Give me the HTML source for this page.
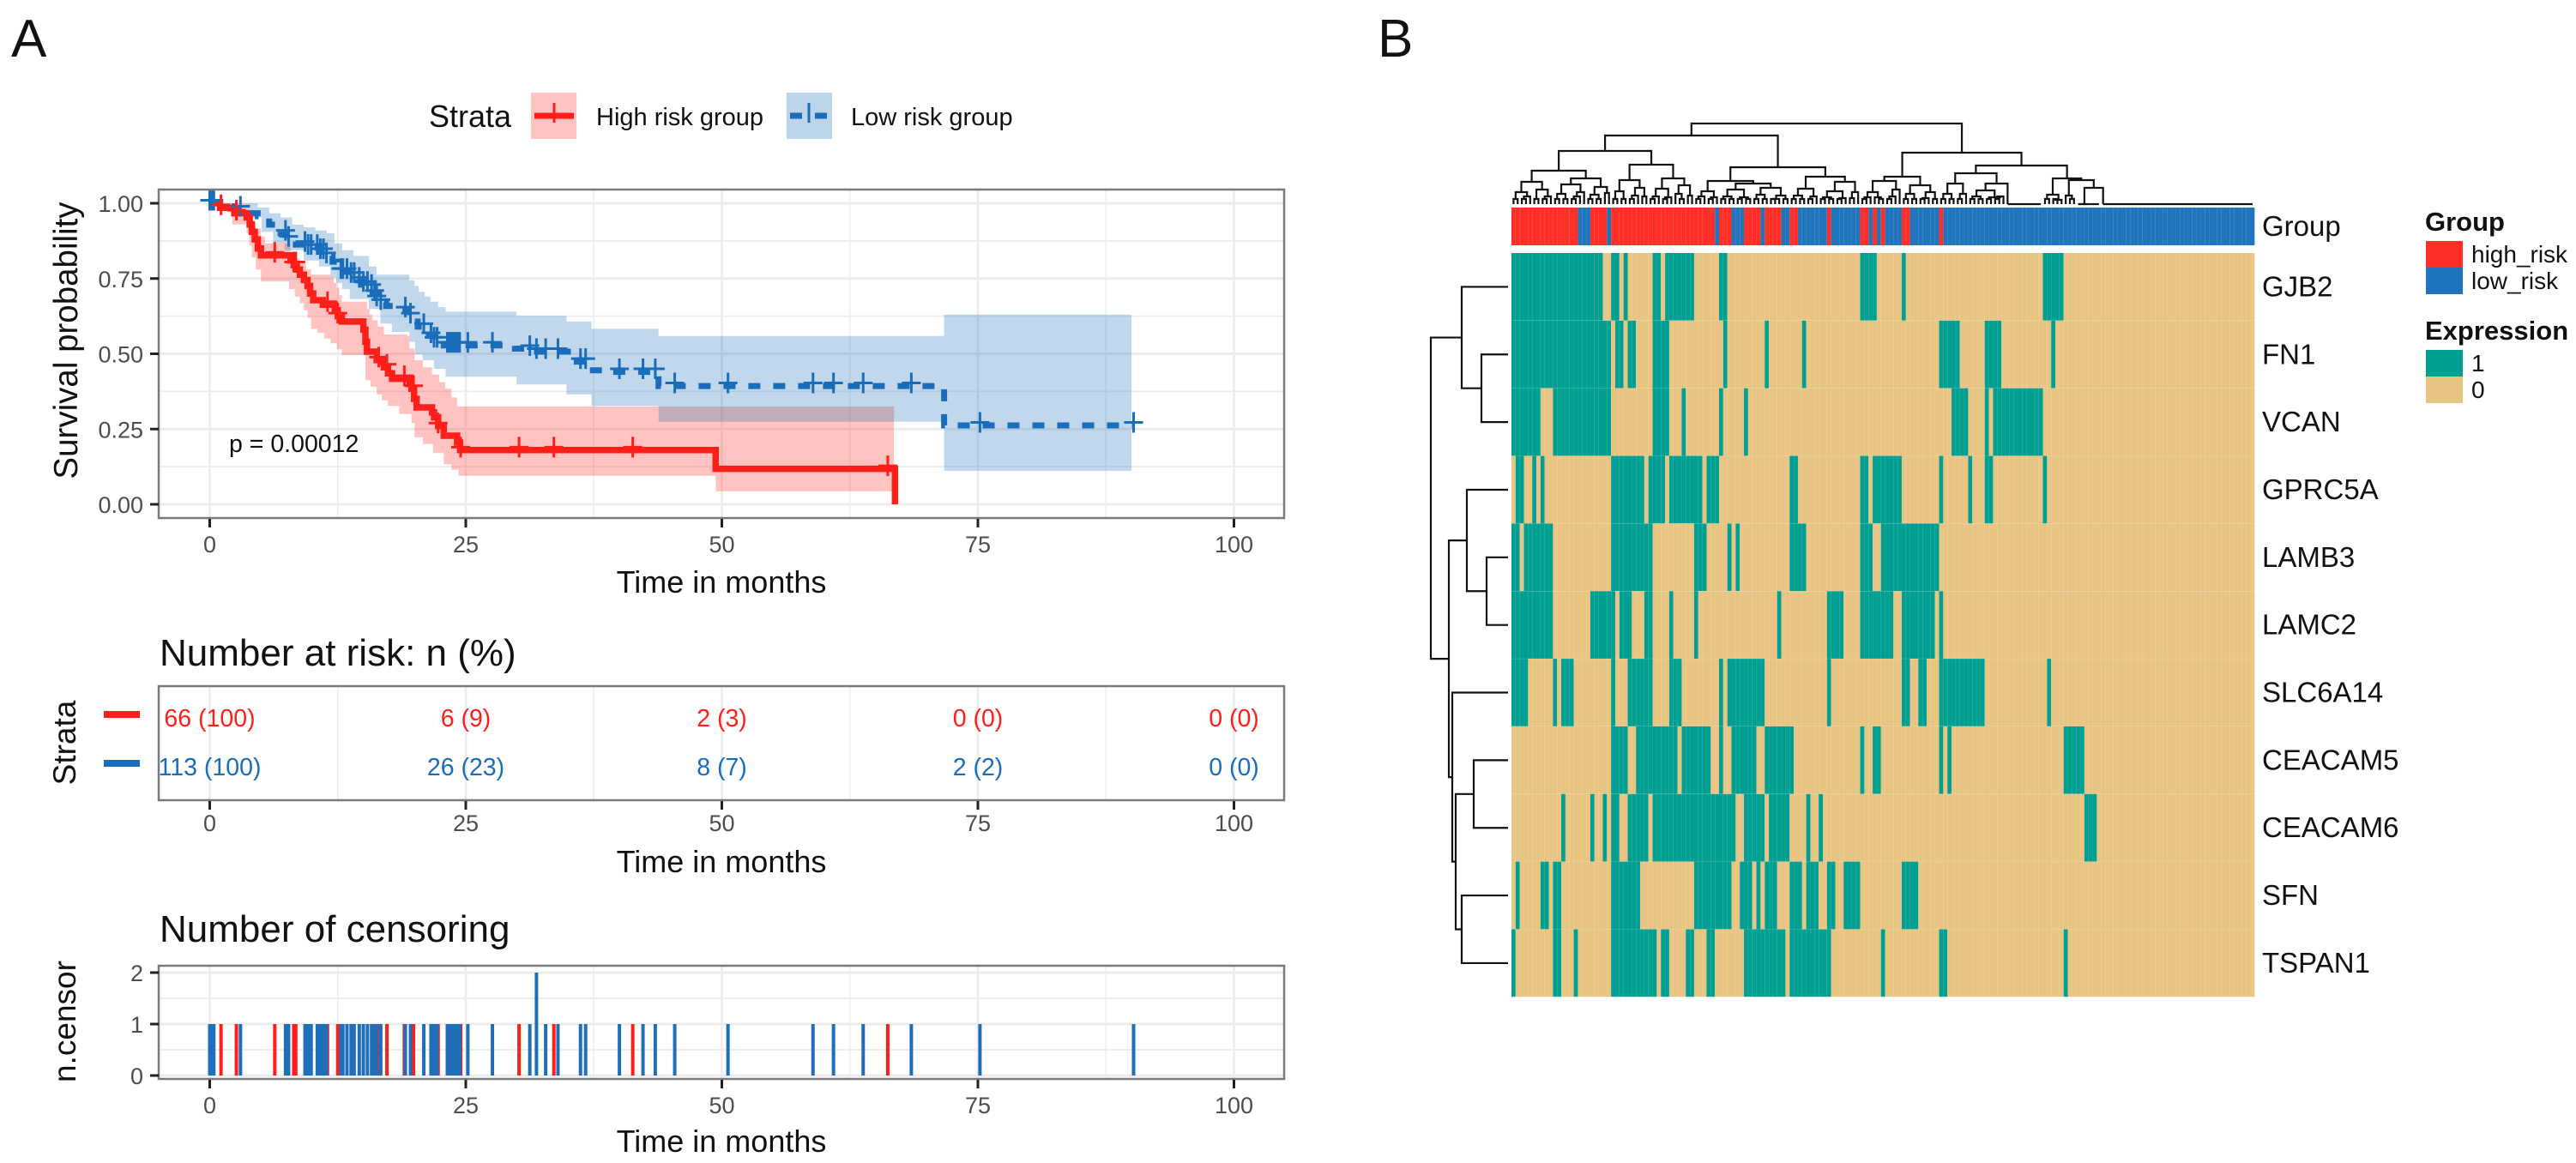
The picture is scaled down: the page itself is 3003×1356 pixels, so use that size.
<!DOCTYPE html>
<html lang="en">
<head>
<meta charset="utf-8">
<title>Survival analysis and expression heatmap</title>
<style>
html,body{margin:0;padding:0;background:#fff;}
svg{display:block;}
text{font-family:"Liberation Sans",sans-serif;}
</style>
</head>
<body>
<svg id="fig" xmlns="http://www.w3.org/2000/svg" width="3003" height="1356" viewBox="0 0 3003 1356">
  <rect x="0" y="0" width="3003" height="1356" fill="#fff"/>
  <text x="13" y="66" font-size="62" fill="#111">A</text>
  <text x="1606" y="66" font-size="62" fill="#111">B</text>

  <text x="500" y="148" font-size="36" fill="#111">Strata</text>
  <g>
    <rect x="619" y="108" width="53" height="54" fill="#ff2a22" fill-opacity="0.28"/>
    <line x1="623" x2="669" y1="135" y2="135" stroke="#ff1f1a" stroke-width="7"/>
    <line x1="646" x2="646" y1="120" y2="143" stroke="#ff1f1a" stroke-width="3"/>
    <text x="695" y="146" font-size="29" fill="#111">High risk group</text>
  </g>
  <g>
    <rect x="917" y="108" width="53" height="54" fill="#1f6fb8" fill-opacity="0.3"/>
    <line x1="921" x2="964" y1="135" y2="135" stroke="#1a6dba" stroke-width="7" stroke-dasharray="14 15"/>
    <line x1="943" x2="943" y1="120" y2="143" stroke="#1a6dba" stroke-width="3"/>
    <text x="992" y="146" font-size="29" fill="#111">Low risk group</text>
  </g>

  <g id="km-grid"></g>
  <g id="km-bands"></g>
  <g id="km-lines"></g>
  <g id="km-marks"></g>
  <rect x="185" y="221" width="1312" height="383" fill="none" stroke="#7a7a7a" stroke-width="2.5"/>
  <g id="km-axes"></g>
  <text transform="translate(90,397) rotate(-90)" text-anchor="middle" font-size="38.5" fill="#111">Survival probability</text>
  <text x="841" y="691" text-anchor="middle" font-size="36" fill="#111">Time in months</text>
  <text x="267" y="527" font-size="28.5" fill="#111">p = 0.00012</text>

  <text x="186" y="776" font-size="44" fill="#111">Number at risk: n (%)</text>
  <g id="risk-grid"></g>
  <rect x="185" y="800" width="1312" height="133" fill="none" stroke="#7a7a7a" stroke-width="2.5"/>
  <g id="risk-values"></g>
  <g id="risk-axes"></g>
  <rect x="121" y="829" width="42" height="8" fill="#ff1f1a"/>
  <rect x="121" y="886" width="42" height="8" fill="#1a6dba"/>
  <text transform="translate(88,866) rotate(-90)" text-anchor="middle" font-size="37" fill="#111">Strata</text>
  <text x="841" y="1017" text-anchor="middle" font-size="36" fill="#111">Time in months</text>

  <text x="186" y="1098" font-size="44" fill="#111">Number of censoring</text>
  <g id="censor-grid"></g>
  <g id="censor-bars"></g>
  <rect x="185" y="1126" width="1312" height="132" fill="none" stroke="#7a7a7a" stroke-width="2.5"/>
  <g id="censor-axes"></g>
  <text transform="translate(88,1191) rotate(-90)" text-anchor="middle" font-size="37" fill="#111">n.censor</text>
  <text x="841" y="1343" text-anchor="middle" font-size="36" fill="#111">Time in months</text>

  <g id="col-dendro" fill="none" stroke="#111" stroke-width="2.2"></g>
  <g id="row-dendro" fill="none" stroke="#111" stroke-width="2.2"></g>
  <g id="group-bar"></g>
  <g id="heat"></g>
  <g id="row-labels"></g>
  <text x="2637" y="275" font-size="33" fill="#111">Group</text>

  <text x="2827" y="269" font-size="31" font-weight="bold" fill="#111">Group</text>
  <rect x="2828" y="281" width="43" height="31" fill="#ff2e26"/>
  <rect x="2828" y="312" width="43" height="31" fill="#1f74bc"/>
  <text x="2881" y="306" font-size="28" fill="#111">high_risk</text>
  <text x="2881" y="337" font-size="28" fill="#111">low_risk</text>
  <text x="2827" y="396" font-size="31" font-weight="bold" fill="#111">Expression</text>
  <rect x="2828" y="408" width="43" height="31" fill="#009f92"/>
  <rect x="2828" y="439" width="43" height="31" fill="#e8c583"/>
  <text x="2881" y="433" font-size="28" fill="#111">1</text>
  <text x="2881" y="464" font-size="28" fill="#111">0</text>
</svg>
<script>
// ---------- survival data ----------
var timeTicks = [0, 25, 50, 75, 100];
var timeMinorTicks = [12.5, 37.5, 62.5, 87.5];
var survivalTicks = [0, 0.25, 0.5, 0.75, 1];
var survivalTickLabels = ['0.00', '0.25', '0.50', '0.75', '1.00'];
var survivalMinorTicks = [0.125, 0.375, 0.625, 0.875];

var highTimes = [0, 1.0, 2.4, 3.6, 3.9, 4.1, 4.4, 4.7, 5.0, 7.9, 8.2, 8.5, 8.8, 9.2, 9.55, 9.8, 10.1, 11.05, 12.2, 12.5, 12.9, 15.0, 15.2, 15.35, 16.3, 17.0, 17.4, 17.8, 19.5, 19.7, 19.95, 20.2, 21.7, 21.9, 22.3, 22.85, 24.15, 24.45, 49.4, 66.9];
var highSurvival = [1, 0.985, 0.967, 0.953, 0.93, 0.905, 0.88, 0.85, 0.827, 0.81, 0.795, 0.78, 0.763, 0.745, 0.725, 0.7, 0.678, 0.663, 0.645, 0.625, 0.607, 0.58, 0.54, 0.507, 0.479, 0.455, 0.435, 0.417, 0.4, 0.384, 0.35, 0.322, 0.305, 0.289, 0.26, 0.228, 0.205, 0.18, 0.118, 0];
var highUpperTimes = [0, 3.6, 3.9, 4.2, 4.5, 5.0, 5.4, 7.9, 8.4, 8.8, 9.4, 9.9, 11.8, 12.1, 12.4, 12.65, 12.9, 15.35, 15.6, 15.9, 16.4, 17.0, 19.3, 19.5, 20.0, 20.8, 21.7, 22.4, 23.0, 23.6, 24.15];
var highUpper = [1, 0.975, 0.955, 0.935, 0.915, 0.89, 0.867, 0.834, 0.817, 0.8, 0.78, 0.763, 0.753, 0.735, 0.72, 0.695, 0.673, 0.649, 0.63, 0.611, 0.59, 0.564, 0.559, 0.517, 0.479, 0.455, 0.431, 0.405, 0.384, 0.355, 0.325];
var highLowerTimes = [0, 2.2, 3.6, 3.85, 4.1, 4.5, 5.0, 7.75, 8.3, 8.8, 9.2, 9.55, 9.9, 10.5, 11.2, 11.8, 12.4, 12.9, 15.2, 15.7, 16.3, 16.8, 17.4, 18.5, 19.7, 20.0, 20.8, 21.8, 22.85, 23.6, 24.3, 49.4];
var highLower = [1, 0.93, 0.9, 0.86, 0.82, 0.78, 0.74, 0.715, 0.69, 0.668, 0.645, 0.62, 0.583, 0.57, 0.55, 0.535, 0.515, 0.496, 0.412, 0.39, 0.365, 0.345, 0.327, 0.3, 0.27, 0.223, 0.2, 0.17, 0.133, 0.115, 0.095, 0.043];
var highEnd = 66.8;

var lowTimes = [0, 2.43, 3.56, 4.68, 5.8, 6.4, 6.93, 7.5, 8.05, 9.55, 10.67, 11.4, 11.99, 12.4, 12.73, 13.6, 14.42, 15.0, 15.54, 15.9, 16.29, 16.7, 17.23, 19.1, 19.4, 19.66, 20.3, 20.97, 21.4, 21.9, 22.85, 29.8, 31.27, 35.39, 36.89, 39.14, 43.82, 71.7, 90.2];
var lowSurvival = [1, 0.98, 0.967, 0.957, 0.929, 0.915, 0.9, 0.88, 0.863, 0.853, 0.839, 0.825, 0.806, 0.79, 0.773, 0.76, 0.744, 0.73, 0.72, 0.7, 0.682, 0.67, 0.659, 0.645, 0.625, 0.607, 0.59, 0.573, 0.56, 0.545, 0.528, 0.517, 0.507, 0.474, 0.445, 0.44, 0.393, 0.262, 0.262];
var lowUpperTimes = [0, 3.56, 4.68, 5.8, 6.93, 8.05, 9.18, 10.3, 11.42, 12.17, 12.92, 14.04, 15.54, 16.29, 19.48, 20.0, 20.41, 21.0, 21.54, 22.3, 23.03, 29.96, 34.83, 37.27, 43.82, 71.7];
var lowUpper = [1, 1, 0.986, 0.967, 0.953, 0.929, 0.92, 0.91, 0.9, 0.867, 0.844, 0.825, 0.79, 0.763, 0.744, 0.725, 0.706, 0.69, 0.673, 0.655, 0.64, 0.626, 0.607, 0.583, 0.559, 0.63];
var lowLowerTimes = [0, 3.56, 5.06, 6.18, 7.3, 9.18, 10.67, 11.8, 12.35, 12.92, 13.67, 15.54, 16.67, 17.79, 19.5, 20.04, 20.79, 21.9, 23.03, 29.96, 34.83, 37.27, 43.82, 71.7];
var lowLower = [1, 0.953, 0.905, 0.867, 0.844, 0.81, 0.79, 0.753, 0.735, 0.715, 0.682, 0.649, 0.6, 0.573, 0.54, 0.498, 0.479, 0.45, 0.424, 0.398, 0.365, 0.327, 0.274, 0.111];
var lowEnd = 90;

// ---------- censoring data ----------
var censorHighTimes = [1.1, 2.6, 6.35, 8.2, 8.4, 11.5, 12.5, 16.5, 17.3, 19.0, 19.9, 22.3, 24.5, 30.2, 33.6, 41.3, 66.2];
var censorHighCounts = [1, 1, 1, 1, 1, 1, 1, 1, 1, 1, 1, 1, 1, 1, 1, 1, 1];
var censorLowTimes = [0, 0.2, 0.4, 3.0, 7.4, 7.7, 9.3, 9.6, 9.9, 10.5, 10.8, 11.1, 11.4, 12.8, 13.0, 13.4, 13.8, 14.1, 14.6, 15.0, 15.4, 15.8, 16.1, 16.3, 16.7, 19.1, 19.6, 20.9, 21.6, 21.9, 22.2, 23.2, 23.4, 23.6, 23.8, 24.0, 24.2, 24.4, 25.2, 27.6, 31.25, 31.9, 32.8, 34.0, 36.2, 36.7, 40.0, 42.3, 43.5, 45.4, 50.6, 58.9, 60.9, 63.8, 68.5, 75.2, 90.2];
var censorLowCounts = [1, 1, 1, 1, 1, 1, 1, 1, 1, 1, 1, 1, 1, 1, 1, 1, 1, 1, 1, 1, 1, 1, 1, 1, 1, 1, 1, 1, 1, 1, 1, 1, 1, 1, 1, 1, 1, 1, 1, 1, 1, 2, 1, 1, 1, 1, 1, 1, 1, 1, 1, 1, 1, 1, 1, 1, 1];
var censorTicks = [0, 1, 2];
var censorMinorTicks = [0.5, 1.5];

// ---------- risk table ----------
var riskHigh = ['66 (100)', '6 (9)', '2 (3)', '0 (0)', '0 (0)'];
var riskLow = ['113 (100)', '26 (23)', '8 (7)', '2 (2)', '0 (0)'];

// ---------- heatmap data (sample index ranges [from, to) with expression = 1) ----------
var sampleCount = 179;
var genes = ['GJB2', 'FN1', 'VCAN', 'GPRC5A', 'LAMB3', 'LAMC2', 'SLC6A14', 'CEACAM5', 'CEACAM6', 'SFN', 'TSPAN1'];
var runsGJB2 = [[0,22],[24,26],[27,28],[34,36],[37,44],[50,52],[84,88],[94,95],[128,133]];
var runsFN1 = [[0,24],[25,27],[28,30],[34,38],[51,52],[61,62],[70,71],[103,108],[114,118],[130,131]];
var runsVCAN = [[0,7],[10,24],[34,38],[41,42],[50,51],[56,57],[106,110],[114,115],[116,128]];
var runsGPRC5A = [[1,3],[5,6],[7,8],[24,32],[33,37],[38,46],[47,50],[67,69],[84,86],[87,94],[103,104],[110,111],[114,116],[128,129]];
var runsLAMB3 = [[0,2],[3,10],[24,34],[44,47],[52,53],[54,55],[67,71],[84,87],[89,103]];
var runsLAMC2 = [[0,10],[19,25],[26,29],[32,34],[38,39],[44,45],[64,65],[76,80],[84,92],[94,102],[103,104]];
var runsSLC6A14 = [[0,4],[10,11],[12,15],[24,25],[28,34],[38,41],[50,51],[52,61],[76,77],[94,96],[98,100],[103,114],[129,130]];
var runsCEACAM5 = [[24,28],[30,40],[41,48],[50,51],[53,59],[61,68],[84,85],[87,89],[103,104],[105,106],[133,138]];
var runsCEACAM6 = [[12,13],[19,20],[22,23],[24,26],[28,33],[34,54],[56,61],[62,67],[71,72],[74,75],[138,141]];
var runsSFN = [[1,2],[7,9],[10,12],[24,31],[44,53],[55,58],[59,60],[61,64],[67,70],[71,74],[76,78],[80,84],[94,98]];
var runsTSPAN1 = [[0,1],[10,12],[15,16],[24,35],[36,38],[42,44],[47,49],[56,66],[67,77],[89,90],[103,105],[133,134]];
var geneRuns = [runsGJB2, runsFN1, runsVCAN, runsGPRC5A, runsLAMB3, runsLAMC2, runsSLC6A14, runsCEACAM5, runsCEACAM6, runsSFN, runsTSPAN1];
var highRiskRuns = [[0,16],[19,23],[24,49],[50,53],[56,60],[61,65],[67,69],[76,77],[84,86],[87,88],[89,90],[94,96],[103,104]];

// dendrogram trees: [merge height, left, right]; number = chain of n leaves; negative = flat chain
var treeA = [39,[26,[14,2,3],[17,2,3]],[30,[23,[12,2,2],[14,3,1]],[20,[11,2,2],[13,1,1]]]];
var treeB = [46,[28,[15,2,2],[19,[10,2,1],[9,1,1]]],[30,[18,[9,2,1],[8,2,1]],[22,[12,1,2],[10,1,1]]]];
var treeC = [43,[27,[15,[9,2,1],[8,2,1]],[24,[17,[9,2,2],[8,2,2]],[19,[11,2,2],[10,[6,2,1],2]]]],[32,[18,[10,2,2],[9,2,1]],[26,[15,[8,2,2],[7,2,1]],[14,[7,1,1],1]]]];
var treeD = [32,[27,[14,[8,2,1],[8,1,2]],[17,[9,2,1],1]],[22,[12,2,2],[14,[7,2,1],2]]];
var treeE = [36,[24,[12,2,2],[12,2,1]],[24,[16,[9,2,2],[8,2,3]],-9]];
var treeF = [30,[11,2,[5,2,1]],[28,[10,1,2],[19,[0,-3,-3],-37]]];
var columnTree = [94,[80,[62,treeA,treeB],treeC],[60,treeD,[45,treeE,treeF]]];
var rowTree = [90,[54,1,[31,1,1]],[69,[48,1,[25,1,1]],[65,1,[61,[40,1,1],[54,1,1]]]]];

// ---------- geometry & helpers ----------
var SVGNS = 'http://www.w3.org/2000/svg';
var COLOR_HIGH = '#ff1f1a', COLOR_LOW = '#1a6dba', GRID = '#ececec', TICK_TEXT = '#4d4d4d';
function xT(t) { return 244.5 + 11.94 * t; }
function yS(s) { return 588 - 351 * s; }
function yC(n) { return 1254 - 60 * n; }
function mk(parentId, tag, name, attrs, content) {
  var node = document.createElementNS(SVGNS, tag);
  
  
  for (var k in attrs) { node.setAttribute(k, attrs[k]); }
  if (content !== undefined) { node.textContent = content; }
  document.getElementById(parentId).appendChild(node);
  return node;
}
function stepAt(times, vals, t) {
  var v = vals[0];
  for (var i = 0; i < times.length; i++) { if (times[i] <= t) { v = vals[i]; } }
  return v;
}
function stepPoints(times, vals, end) {
  var pts = [];
  for (var i = 0; i < times.length; i++) {
    if (i > 0) { pts.push([xT(times[i]), yS(vals[i - 1])]); }
    pts.push([xT(times[i]), yS(vals[i])]);
  }
  if (end !== undefined) { pts.push([xT(end), yS(vals[vals.length - 1])]); }
  return pts;
}
function toStr(pts) { return pts.map(function (p) { return p[0].toFixed(1) + ',' + p[1].toFixed(1); }).join(' '); }

function verticalGrid(parent, top, bottom) {
  timeMinorTicks.forEach(function (t) {
    mk(parent, 'line', 'grid-minor-x', {x1: xT(t), x2: xT(t), y1: top, y2: bottom, stroke: GRID, 'stroke-width': 1.5});
  });
  timeTicks.forEach(function (t) {
    mk(parent, 'line', 'grid-major-x', {x1: xT(t), x2: xT(t), y1: top, y2: bottom, stroke: GRID, 'stroke-width': 2.6});
  });
}
function xAxis(parent, axisY, labelY) {
  timeTicks.forEach(function (t) {
    mk(parent, 'line', 'x-tick', {x1: xT(t), x2: xT(t), y1: axisY + 1, y2: axisY + 11, stroke: '#222', 'stroke-width': 3});
    mk(parent, 'text', 'x-tick-label', {x: xT(t), y: labelY, 'text-anchor': 'middle', 'font-size': 27, fill: TICK_TEXT}, String(t));
  });
}

// ---------- survival panel ----------
verticalGrid('km-grid', 222, 603);
survivalMinorTicks.forEach(function (s) {
  mk('km-grid', 'line', 'grid-minor-y', {x1: 186, x2: 1496, y1: yS(s), y2: yS(s), stroke: GRID, 'stroke-width': 1.8});
});
survivalTicks.forEach(function (s, i) {
  mk('km-grid', 'line', 'grid-major-y', {x1: 186, x2: 1496, y1: yS(s), y2: yS(s), stroke: GRID, 'stroke-width': 3});
  mk('km-axes', 'line', 'y-tick', {x1: 175, x2: 185, y1: yS(s), y2: yS(s), stroke: '#222', 'stroke-width': 3});
  mk('km-axes', 'text', 'y-tick-label', {x: 167, y: yS(s) + 10, 'text-anchor': 'end', 'font-size': 27, fill: TICK_TEXT}, survivalTickLabels[i]);
});
xAxis('km-axes', 604, 644);

function band(upT, up, loT, lo, end, color, opacity, name) {
  var top = stepPoints(upT, up, end);
  var bot = stepPoints(loT, lo, end).reverse();
  mk('km-bands', 'polygon', name, {points: toStr(top.concat(bot)), fill: color, 'fill-opacity': opacity});
}
band(highUpperTimes, highUpper, highLowerTimes, highLower, highEnd, '#ff2a22', 0.28, 'band-high-risk');
band(lowUpperTimes, lowUpper, lowLowerTimes, lowLower, lowEnd, '#1f6fb8', 0.28, 'band-low-risk');

mk('km-lines', 'polyline', 'curve-low-risk', {points: toStr(stepPoints(lowTimes, lowSurvival)), fill: 'none', stroke: COLOR_LOW, 'stroke-width': 7, 'stroke-dasharray': '14 15'});
mk('km-lines', 'polyline', 'curve-high-risk', {points: toStr(stepPoints(highTimes, highSurvival)), fill: 'none', stroke: COLOR_HIGH, 'stroke-width': 7.5});

function marks(times, stepT, stepV, color, name) {
  times.forEach(function (t) {
    var cx = xT(t), cy = yS(stepAt(stepT, stepV, t)) - 3.5;
    mk('km-marks', 'path', name, {d: 'M' + (cx - 11) + ' ' + cy + 'H' + (cx + 11) + 'M' + cx + ' ' + (cy - 12) + 'V' + (cy + 12), stroke: color, 'stroke-width': 3, fill: 'none'});
  });
}
marks(censorLowTimes, lowTimes, lowSurvival, COLOR_LOW, 'censor-mark-low');
marks(censorHighTimes, highTimes, highSurvival, COLOR_HIGH, 'censor-mark-high');

// ---------- risk table ----------
verticalGrid('risk-grid', 801, 932);
timeTicks.forEach(function (t, i) {
  mk('risk-values', 'text', 'risk-value-high', {x: xT(t), y: 847, 'text-anchor': 'middle', 'font-size': 28.5, fill: COLOR_HIGH}, riskHigh[i]);
  mk('risk-values', 'text', 'risk-value-low', {x: xT(t), y: 904, 'text-anchor': 'middle', 'font-size': 28.5, fill: COLOR_LOW}, riskLow[i]);
});
xAxis('risk-axes', 933, 969);

// ---------- censor panel ----------
verticalGrid('censor-grid', 1127, 1257);
censorMinorTicks.forEach(function (n) {
  mk('censor-grid', 'line', 'grid-minor-y', {x1: 186, x2: 1496, y1: yC(n), y2: yC(n), stroke: GRID, 'stroke-width': 1.8});
});
censorTicks.forEach(function (n) {
  mk('censor-grid', 'line', 'grid-major-y', {x1: 186, x2: 1496, y1: yC(n), y2: yC(n), stroke: GRID, 'stroke-width': 3});
  mk('censor-axes', 'line', 'y-tick', {x1: 175, x2: 185, y1: yC(n), y2: yC(n), stroke: '#222', 'stroke-width': 3});
  mk('censor-axes', 'text', 'y-tick-label', {x: 167, y: yC(n) + 10, 'text-anchor': 'end', 'font-size': 27, fill: TICK_TEXT}, String(n));
});
xAxis('censor-axes', 1258, 1298);
censorHighTimes.forEach(function (t, i) {
  mk('censor-bars', 'line', 'censor-bar-high', {x1: xT(t), x2: xT(t), y1: yC(0), y2: yC(censorHighCounts[i]), stroke: '#ff1f1a', 'stroke-width': 4});
});
censorLowTimes.forEach(function (t, i) {
  mk('censor-bars', 'line', 'censor-bar-low', {x1: xT(t), x2: xT(t), y1: yC(0), y2: yC(censorLowCounts[i]), stroke: '#1f6fb8', 'stroke-width': 4});
});

// ---------- heatmap ----------
var HM_LEFT = 1762, HM_TOP = 295, COL_W = 4.84, ROW_H = 78.85;
function xCol(c) { return HM_LEFT + c * COL_W; }
function yRow(r) { return HM_TOP + r * ROW_H; }
function inRuns(runs, c) {
  for (var i = 0; i < runs.length; i++) { if (c >= runs[i][0] && c < runs[i][1]) { return true; } }
  return false;
}
for (var c = 0; c < sampleCount; c++) {
  mk('group-bar', 'rect', 'group-cell', {x: xCol(c).toFixed(2), y: 242, width: COL_W, height: 44, fill: inRuns(highRiskRuns, c) ? '#ff2e26' : '#1f74bc'});
}
genes.forEach(function (gene, r) {
  for (var c = 0; c < sampleCount; c++) {
    mk('heat', 'rect', 'heatmap-cell', {x: xCol(c).toFixed(2), y: yRow(r).toFixed(2), width: COL_W, height: ROW_H - 0.15, fill: inRuns(geneRuns[r], c) ? '#009f92' : '#e8c583'});
  }
  mk('row-labels', 'text', 'gene-label', {x: 2637, y: (yRow(r) + ROW_H / 2 + 11).toFixed(1), 'font-size': 33, fill: '#111'}, gene);
});

// ---------- dendrograms ----------
function drawTree(node, start, point, parent, name) {
  if (typeof node === 'number') {
    var n = Math.abs(node);
    if (node < 0) {
      var a = point(start + 0.5, 0), b = point(start + n - 0.5, 0);
      mk(parent, 'path', name, {d: 'M' + a[0] + ' ' + a[1] + 'L' + b[0] + ' ' + b[1]});
      return {x: start + 0.5, h: 0, n: n};
    }
    var x = start + 0.5, h = 0;
    for (var i = 1; i < n; i++) {
      var nh = 3 + 3 * i, xr = start + i + 0.5;
      var p1 = point(x, h), p2 = point(x, nh), p3 = point(xr, nh), p4 = point(xr, 0);
      mk(parent, 'path', name, {d: 'M' + p1 + 'L' + p2 + 'L' + p3 + 'L' + p4});
      x = (x + xr) / 2; h = nh;
    }
    return {x: x, h: h, n: n};
  }
  var L = drawTree(node[1], start, point, parent, name);
  var R = drawTree(node[2], start + L.n, point, parent, name);
  var q1 = point(L.x, L.h), q2 = point(L.x, node[0]), q3 = point(R.x, node[0]), q4 = point(R.x, R.h);
  mk(parent, 'path', name, {d: 'M' + q1 + 'L' + q2 + 'L' + q3 + 'L' + q4});
  return {x: (L.x + R.x) / 2, h: node[0], n: L.n + R.n};
}
function colPoint(c, h) { return [+(xCol(c)).toFixed(2), 238 - h]; }
function rowPoint(r, h) { return [1758 - h, +(yRow(r)).toFixed(2)]; }
drawTree(columnTree, 0, colPoint, 'col-dendro', 'column-dendrogram-link');
drawTree(rowTree, 0, rowPoint, 'row-dendro', 'row-dendrogram-link');
</script>
</body>
</html>
